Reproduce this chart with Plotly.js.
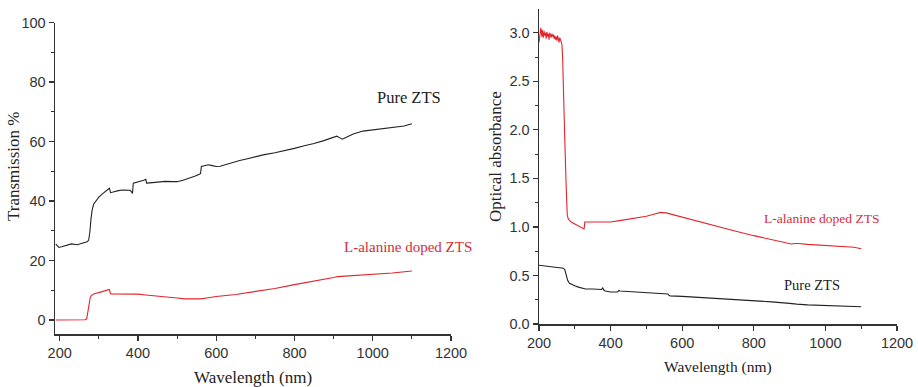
<!DOCTYPE html>
<html><head><meta charset="utf-8">
<script src="https://cdn.plot.ly/plotly-3.0.1.min.js"></script>
<style>html,body{margin:0;padding:0;background:#fff}#chart{width:918px;height:387px}</style>
</head><body><div id="chart"></div>
<script>
// Left panel: Transmission %
const transPureX = [190,194,198,205,215,230,245,260,270,274,277,280,283,287,291,296,300,310,320,327,330,340,350,360,370,380,383,386,388,395,400,410,415,420,422,430,450,470,490,500,515,530,545,557,560,562,570,580,590,600,610,620,640,660,680,700,720,750,775,800,825,850,875,900,908,915,922,930,950,975,1000,1010,1020,1040,1060,1080,1100];
const transPureY = [25.5,25.0,24.4,24.6,24.9,25.6,25.3,26.0,26.3,26.8,29.5,34.0,37.0,39.0,39.8,40.6,41.3,42.5,43.6,44.3,42.8,43.2,43.5,43.7,43.7,43.6,43.2,42.5,46.0,46.2,46.4,46.8,47.0,47.3,46.0,46.1,46.3,46.6,46.5,46.5,47.0,47.6,48.3,49.0,49.3,51.6,51.9,52.2,51.9,51.6,51.7,52.1,52.8,53.6,54.2,54.9,55.5,56.2,56.9,57.7,58.6,59.3,60.3,61.5,61.8,61.3,60.8,61.3,62.5,63.5,63.9,64.0,64.0,64.4,64.7,65.2,66.0];
const transDopedX = [190,220,250,265,269,272,275,278,281,285,290,300,310,320,325,327,330,340,360,380,400,420,450,480,500,520,540,560,580,600,650,700,750,800,850,900,910,950,1000,1050,1100];
const transDopedY = [0.0,0.0,0.0,0.1,0.4,2.5,5.5,7.5,8.3,8.7,8.9,9.2,9.6,10.0,10.2,10.3,8.8,8.8,8.8,8.7,8.7,8.4,8.1,7.7,7.4,7.1,7.0,7.1,7.5,7.9,8.6,9.6,10.6,11.9,13.0,14.3,14.6,14.9,15.4,15.8,16.5];

// Right panel: Optical absorbance
const absDopedX = [200,201,202,203,204,205,206,207,208,209,210,212,214,216,218,220,222,224,226,228,230,232,234,236,238,240,242,244,246,248,250,252,254,256,258,260,262,264,266,268,272,276,279,282,290,300,310,320,326,328,335,350,380,400,425,450,475,500,520,540,555,570,600,650,700,750,800,850,880,905,915,925,950,1000,1030,1060,1080,1100];
const absDopedY = [2.90,2.96,3.00,2.97,3.02,3.05,2.98,3.01,2.96,3.03,2.99,2.95,3.02,2.97,3.00,2.94,3.01,2.96,2.99,2.93,3.00,2.97,2.95,2.99,2.96,2.98,2.94,2.97,2.93,2.96,2.92,2.97,2.94,2.90,2.95,2.92,2.90,2.88,2.74,2.40,1.90,1.40,1.12,1.08,1.05,1.03,1.01,0.99,0.98,1.05,1.05,1.05,1.05,1.05,1.065,1.08,1.095,1.11,1.13,1.15,1.145,1.13,1.105,1.055,1.00,0.955,0.91,0.87,0.845,0.825,0.83,0.83,0.82,0.81,0.805,0.80,0.79,0.775];
const absPureX = [200,215,230,245,260,268,272,276,280,285,290,300,310,320,330,350,375,378,381,385,400,420,423,426,450,500,540,560,563,566,600,650,700,750,800,850,900,915,920,950,1000,1050,1100];
const absPureY = [0.605,0.60,0.595,0.59,0.58,0.575,0.56,0.50,0.45,0.42,0.41,0.395,0.38,0.37,0.36,0.36,0.355,0.375,0.35,0.34,0.33,0.33,0.345,0.34,0.335,0.33,0.32,0.31,0.295,0.29,0.285,0.275,0.265,0.252,0.24,0.228,0.212,0.21,0.205,0.197,0.19,0.185,0.178];

const black = '#222222', red = '#e3242b';
const serif = 'Liberation Serif, Times New Roman, serif';
const sans = 'Liberation Sans, Arial, sans-serif';

const traces = [
  {x: transPureX, y: transPureY, type: 'scatter', mode: 'lines', line: {color: black, width: 1.1}, xaxis: 'x', yaxis: 'y', hoverinfo: 'skip'},
  {x: transDopedX, y: transDopedY, type: 'scatter', mode: 'lines', line: {color: red, width: 1.1}, xaxis: 'x', yaxis: 'y', hoverinfo: 'skip'},
  {x: absDopedX, y: absDopedY, type: 'scatter', mode: 'lines', line: {color: red, width: 1.1}, xaxis: 'x2', yaxis: 'y2', hoverinfo: 'skip'},
  {x: absPureX, y: absPureY, type: 'scatter', mode: 'lines', line: {color: black, width: 1.1}, xaxis: 'x2', yaxis: 'y2', hoverinfo: 'skip'}
];

const axBase = {
  showline: true, linecolor: '#333', linewidth: 1.5, showgrid: false, zeroline: false,
  ticks: 'outside', ticklen: 5, tickwidth: 1.2, tickcolor: '#333',
  tickfont: {family: sans, size: 14.5, color: '#333'}, automargin: false
};
const minorTick = {ticks: 'outside', ticklen: 3, tickwidth: 1, tickcolor: '#333'};

function ann(text, px, py, size, color, extra) {
  return Object.assign({text: text, xref: 'paper', yref: 'paper', x: px/918, y: 1 - py/387,
    xanchor: 'center', yanchor: 'middle', showarrow: false,
    font: {family: serif, size: size, color: color}}, extra || {});
}

const layout = {
  width: 918, height: 387, margin: {l: 0, r: 0, t: 0, b: 0},
  paper_bgcolor: '#fff', plot_bgcolor: '#fff', showlegend: false,
  xaxis: Object.assign({}, axBase, {domain: [55/918, 451/918], range: [188, 1200], dtick: 200, tick0: 0, anchor: 'y',
    minor: Object.assign({dtick: 100, tick0: 0}, minorTick)}),
  yaxis: Object.assign({}, axBase, {domain: [1-334/387, 1-22.5/387], range: [-4.7, 100], dtick: 20, tick0: 0, anchor: 'x',
    minor: Object.assign({dtick: 10, tick0: 0}, minorTick)}),
  xaxis2: Object.assign({}, axBase, {domain: [539/918, 897/918], range: [200, 1200], dtick: 200, tick0: 0, anchor: 'y2',
    minor: Object.assign({dtick: 100, tick0: 0}, minorTick)}),
  yaxis2: Object.assign({}, axBase, {domain: [1-324/387, 1-9/387], range: [0, 3.245], dtick: 0.5, tick0: 0, tickformat: '.1f', anchor: 'x2',
    minor: Object.assign({dtick: 0.25, tick0: 0}, minorTick)}),
  annotations: [
    ann('Transmission %', 13, 167, 17, '#222', {textangle: -90}),
    ann('Wavelength (nm)', 253, 377, 17, '#222'),
    ann('Optical absorbance', 495, 157, 17, '#222', {textangle: -90}),
    ann('Wavelength (nm)', 718, 367, 15.5, '#222'),
    ann('Pure ZTS', 409, 98, 16.5, '#222'),
    ann('L-alanine doped ZTS', 342, 247, 15, '#d62d3a', {xanchor: 'left'}),
    ann('L-alanine doped ZTS', 762, 218, 13.5, '#d62d3a', {xanchor: 'left'}),
    ann('Pure ZTS', 812, 285, 14.5, '#222')
  ]
};

Plotly.newPlot('chart', traces, layout, {staticPlot: true, displayModeBar: false});
</script>
</body></html>
